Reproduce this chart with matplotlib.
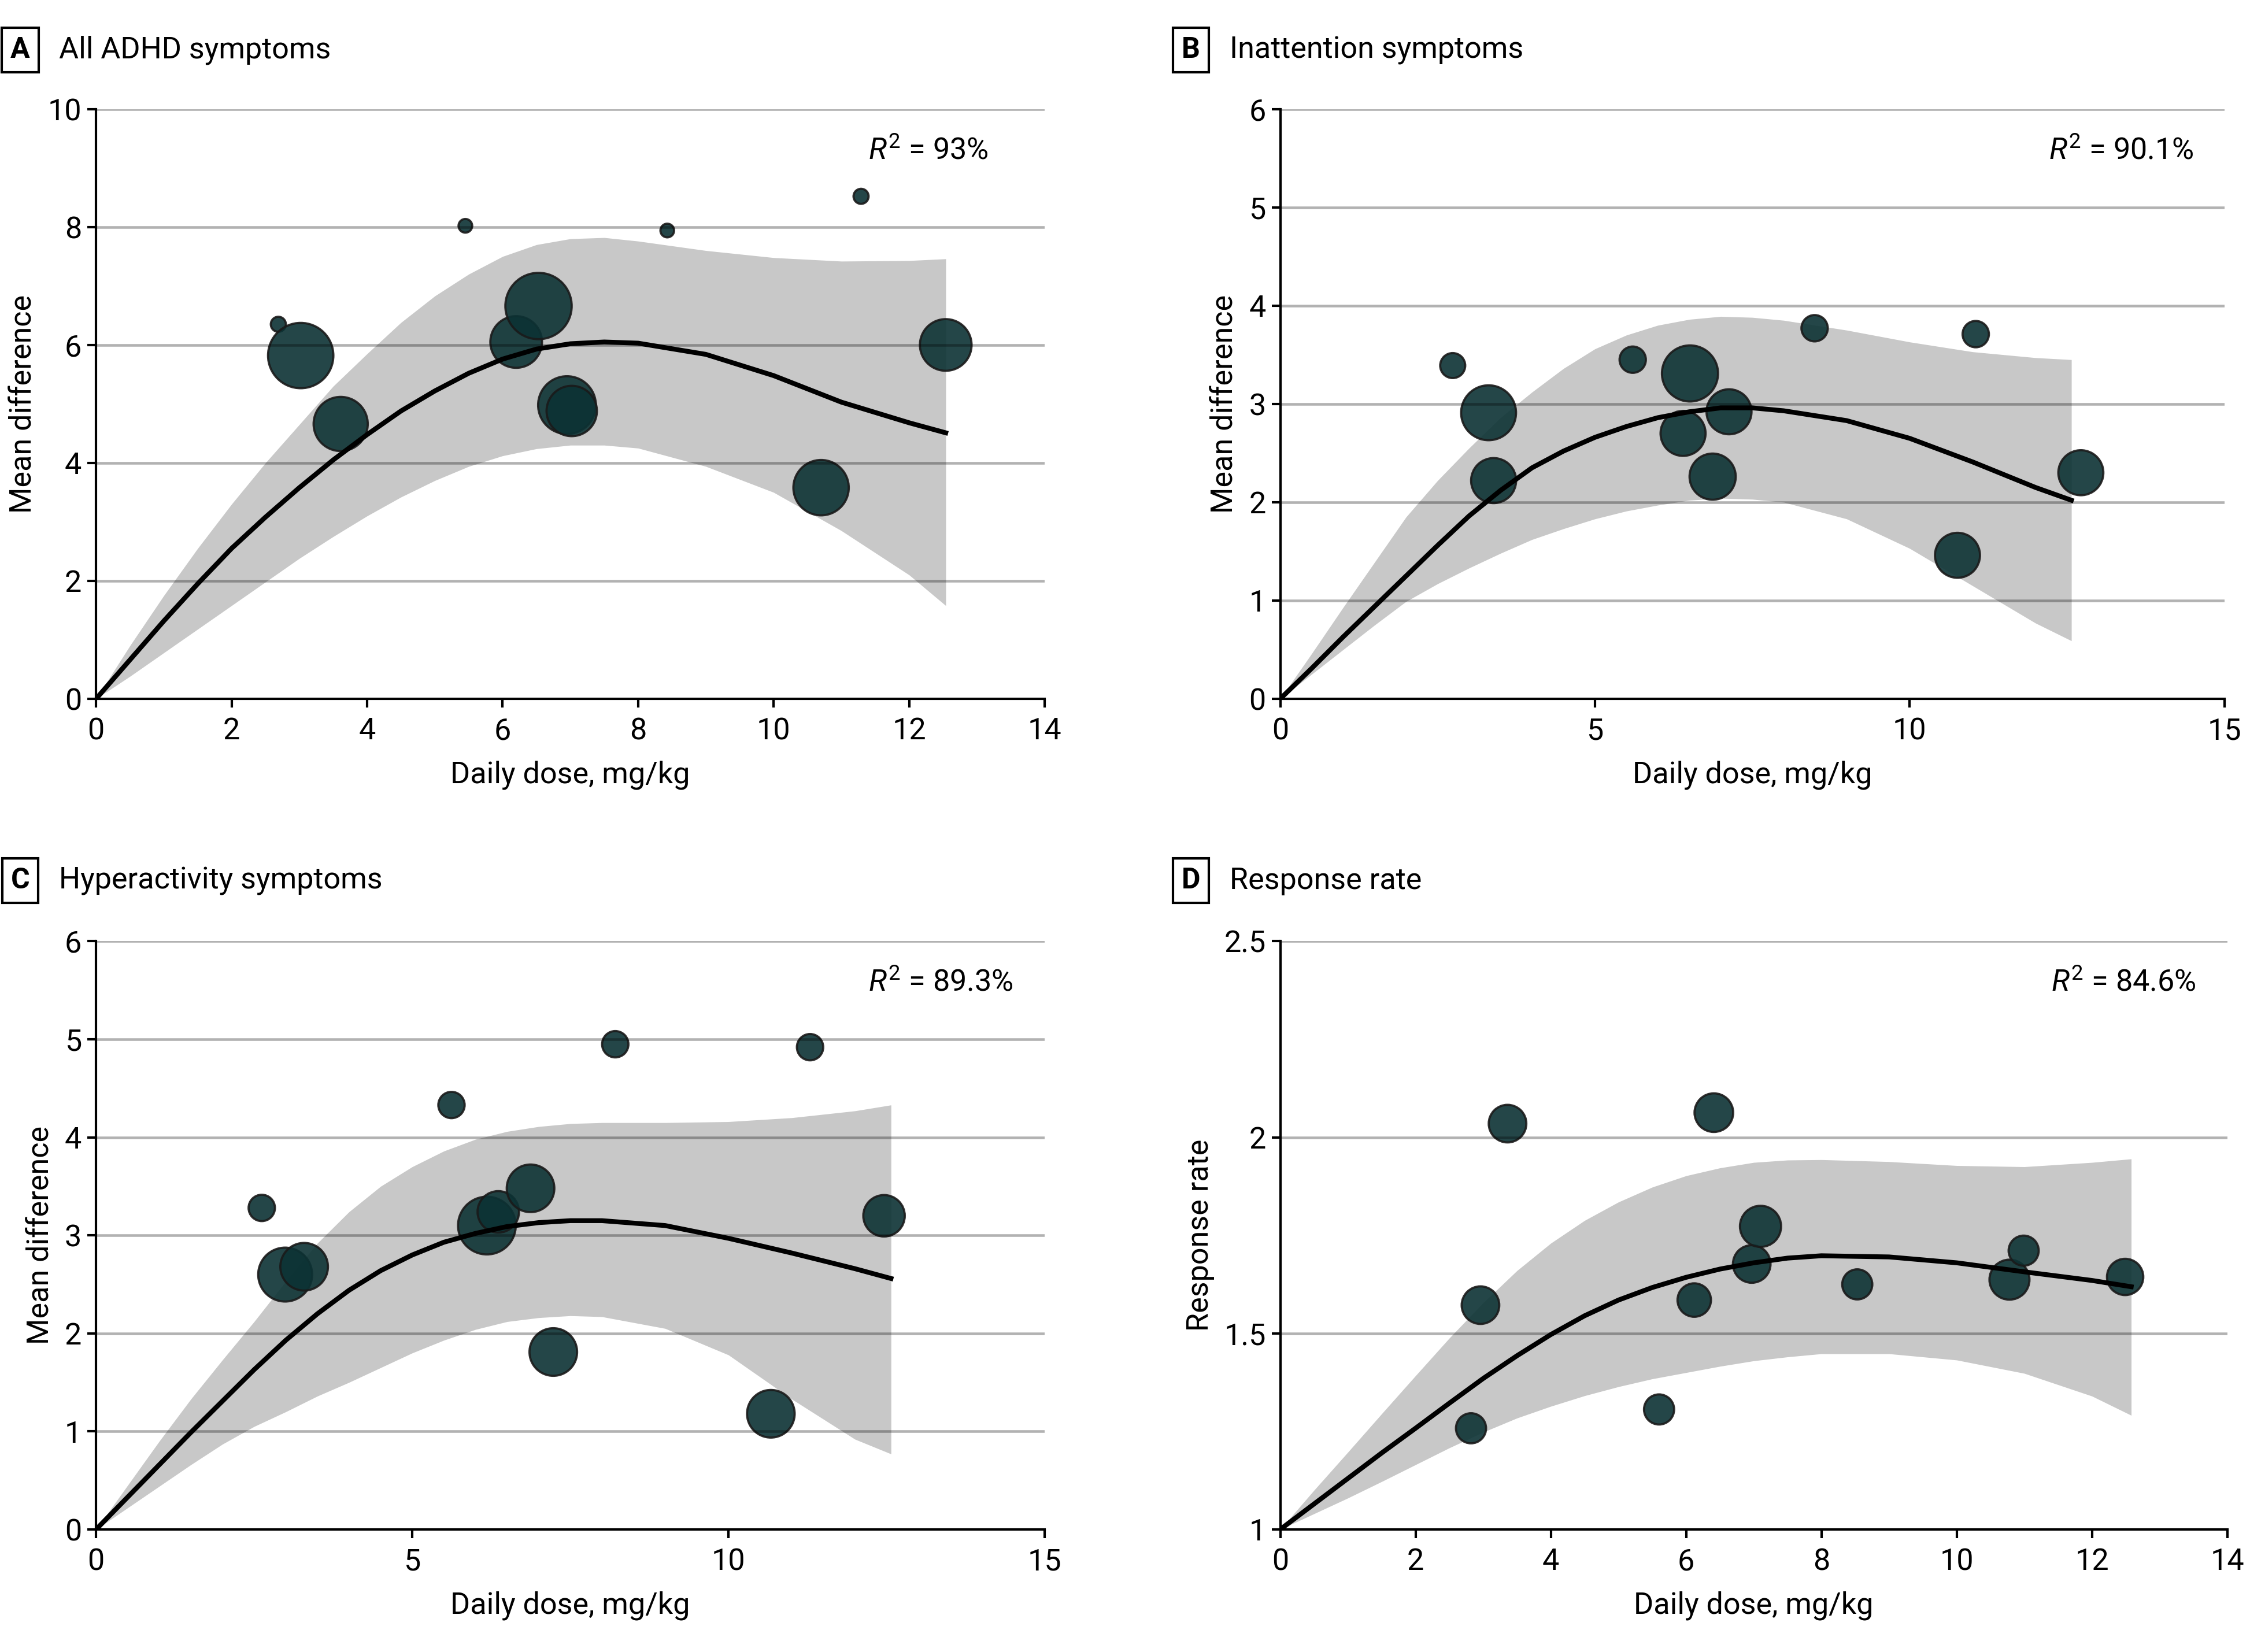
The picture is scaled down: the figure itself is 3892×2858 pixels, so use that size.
import numpy as np
import matplotlib
matplotlib.use('Agg')
import matplotlib.pyplot as plt

plt.rcParams['font.family'] = ['Roboto', 'DejaVu Sans']
plt.rcParams['font.size'] = 12
plt.rcParams['mathtext.fontset'] = 'custom'
plt.rcParams['mathtext.rm'] = 'Roboto'
plt.rcParams['mathtext.it'] = 'Roboto:italic'

# ---- data ----
# A: all ADHD symptoms
dose_a = [2.69, 3.02, 3.61, 5.45, 6.20, 6.53, 6.95, 7.02, 8.43, 10.70, 11.29, 12.54]
md_a = [6.35, 5.82, 4.66, 8.02, 6.05, 6.66, 4.98, 4.88, 7.94, 3.58, 8.52, 6.00]
wt_a = [1.7, 32, 22, 1.4, 20, 33, 25, 19, 1.4, 23, 1.7, 20]
fx_a = [0, 0.5, 1, 1.5, 2, 2.5, 3, 3.5, 4, 4.5, 5, 5.5, 6, 6.5, 7, 7.5, 8, 9, 10, 11, 12, 12.54]
fit_a = [0, 0.66, 1.32, 1.95, 2.55, 3.08, 3.58, 4.05, 4.48, 4.88, 5.22, 5.52, 5.76, 5.93,
         6.02, 6.05, 6.03, 5.84, 5.48, 5.03, 4.68, 4.51]
hi_a = [0, 0.9, 1.75, 2.55, 3.3, 4.0, 4.65, 5.3, 5.85, 6.38, 6.83, 7.2, 7.5, 7.7,
        7.8, 7.82, 7.76, 7.6, 7.48, 7.42, 7.43, 7.46]
lo_a = [0, 0.38, 0.78, 1.18, 1.58, 1.98, 2.38, 2.75, 3.1, 3.42, 3.7, 3.94, 4.12, 4.24,
        4.3, 4.3, 4.25, 3.94, 3.5, 2.85, 2.1, 1.58]

# B: inattention symptoms
dose_b = [2.74, 3.31, 3.39, 5.60, 6.51, 6.40, 7.13, 6.87, 8.49, 11.05, 10.76, 12.72]
md_b = [3.39, 2.91, 2.22, 3.45, 3.31, 2.70, 2.92, 2.26, 3.77, 3.71, 1.46, 2.30]
wt_b = [4.7, 22.6, 15.2, 5.2, 23.6, 15.2, 15.2, 16, 5.2, 5.2, 15.2, 15.2]
fx_b = [0, 0.5, 1, 1.5, 2, 2.5, 3, 3.5, 4, 4.5, 5, 5.5, 6, 6.5, 7, 7.5, 8, 9, 10, 11, 12, 12.57]
fit_b = [0, 0.31, 0.63, 0.94, 1.25, 1.56, 1.86, 2.12, 2.35, 2.52, 2.66, 2.77, 2.86, 2.92,
         2.96, 2.96, 2.93, 2.83, 2.65, 2.41, 2.15, 2.02]
hi_b = [0, 0.46, 0.93, 1.39, 1.85, 2.22, 2.55, 2.86, 3.12, 3.36, 3.56, 3.7, 3.8, 3.86,
        3.89, 3.88, 3.85, 3.75, 3.63, 3.53, 3.47, 3.45]
lo_b = [0, 0.25, 0.5, 0.75, 0.99, 1.17, 1.33, 1.48, 1.62, 1.73, 1.83, 1.91, 1.97, 2.02,
        2.04, 2.03, 2.0, 1.83, 1.53, 1.15, 0.77, 0.59]

# C: hyperactivity symptoms
dose_c = [2.62, 2.99, 3.29, 5.62, 6.18, 6.36, 6.87, 7.23, 8.21, 11.29, 10.67, 12.46]
md_c = [3.28, 2.60, 2.68, 4.33, 3.10, 3.24, 3.48, 1.81, 4.95, 4.92, 1.18, 3.20]
wt_c = [5.2, 21.8, 17, 5.2, 25, 12.9, 17, 17, 5.2, 5.2, 17, 12.9]
fx_c = [0, 0.5, 1, 1.5, 2, 2.5, 3, 3.5, 4, 4.5, 5, 5.5, 6, 6.5, 7, 7.5, 8, 9, 10, 11, 12, 12.57]
fit_c = [0, 0.33, 0.66, 0.99, 1.31, 1.63, 1.93, 2.2, 2.44, 2.64, 2.8, 2.93, 3.02, 3.09,
         3.13, 3.15, 3.15, 3.1, 2.97, 2.82, 2.66, 2.56]
hi_c = [0, 0.45, 0.9, 1.33, 1.73, 2.12, 2.53, 2.92, 3.24, 3.5, 3.7, 3.86, 3.98, 4.06,
        4.11, 4.14, 4.15, 4.15, 4.16, 4.2, 4.27, 4.33]
lo_c = [0, 0.22, 0.44, 0.66, 0.87, 1.05, 1.2, 1.36, 1.5, 1.65, 1.8, 1.93, 2.04, 2.12,
        2.16, 2.18, 2.17, 2.05, 1.78, 1.33, 0.92, 0.77]

# D: response rate
dose_d = [2.82, 2.96, 3.36, 5.60, 6.12, 6.41, 6.97, 7.10, 8.53, 10.78, 10.99, 12.49]
rr_d = [1.258, 1.572, 2.035, 1.306, 1.585, 2.063, 1.677, 1.773, 1.625, 1.637, 1.711, 1.644]
wt_d = [6.8, 10.6, 10.6, 6.8, 8.4, 11.2, 10.6, 12.7, 6.8, 12, 6.8, 9.9]
fx_d = [0, 0.5, 1, 1.5, 2, 2.5, 3, 3.5, 4, 4.5, 5, 5.5, 6, 6.5, 7, 7.5, 8, 9, 10, 11, 12, 12.58]
fit_d = [1, 1.065, 1.13, 1.195, 1.258, 1.322, 1.385, 1.443, 1.497, 1.545, 1.585, 1.617, 1.643,
         1.664, 1.68, 1.692, 1.698, 1.695, 1.68, 1.657, 1.635, 1.619]
hi_d = [1, 1.1, 1.197, 1.295, 1.392, 1.488, 1.578, 1.66, 1.73, 1.788, 1.835, 1.873, 1.902,
        1.922, 1.936, 1.942, 1.943, 1.938, 1.928, 1.925, 1.936, 1.945]
lo_d = [1, 1.04, 1.08, 1.122, 1.165, 1.208, 1.248, 1.284, 1.314, 1.341, 1.364, 1.384, 1.4,
        1.416, 1.43, 1.44, 1.448, 1.448, 1.432, 1.398, 1.34, 1.291]

BUBBLE = '#0c3234'


def panel(ax, dose, val, wt, fx, fit, lo, hi, xticks, yticks, ylabel, r2):
    ax.fill_between(fx, lo, hi, color='#c8c8c8', lw=0, zorder=1)
    ax.scatter(dose, val, s=np.array(wt) * 23.0, c=BUBBLE, alpha=0.9,
               edgecolors='#1a1a1a', linewidths=0.9, zorder=2, clip_on=False)
    ax.plot(fx, fit, color='black', lw=2, zorder=3, solid_joinstyle='round')
    ax.set_xlim(xticks[0], xticks[-1])
    ax.set_ylim(yticks[0], yticks[-1])
    ax.set_xticks(xticks)
    ax.set_yticks(yticks)
    ax.set_xticklabels([('%g' % t) for t in xticks])
    ax.set_yticklabels([('%g' % t) for t in yticks])
    for t in yticks[1:]:
        ax.axhline(t, color='black', alpha=0.3, lw=1.1, zorder=2.5)
    for s in ['top', 'right']:
        ax.spines[s].set_visible(False)
    for s in ['left', 'bottom']:
        ax.spines[s].set_linewidth(1.0)
    ax.tick_params(direction='out', length=3.5, width=1.0, labelsize=12.5)
    ax.tick_params(axis='y', pad=2.5)
    ax.tick_params(axis='x', pad=4)
    ax.set_xlabel('Daily dose, mg/kg', fontsize=12.5, labelpad=6)
    ax.set_ylabel(ylabel, fontsize=12.5)
    ax.text(0.814, 0.929, r'$\mathit{R}^{2}$ = ' + r2, transform=ax.transAxes,
            ha='left', va='center', fontsize=12.5)


fig = plt.figure(figsize=(3892 / 300, 2858 / 300), dpi=300)
ax_a = fig.add_axes([0.0427, 0.577, 0.4216, 0.357])
ax_b = fig.add_axes([0.569, 0.577, 0.4196, 0.357])
ax_c = fig.add_axes([0.0427, 0.0742, 0.4216, 0.356])
ax_d = fig.add_axes([0.569, 0.0742, 0.4209, 0.356])

panel(ax_a, dose_a, md_a, wt_a, fx_a, fit_a, lo_a, hi_a,
      [0, 2, 4, 6, 8, 10, 12, 14], [0, 2, 4, 6, 8, 10], 'Mean difference', '93%')
panel(ax_b, dose_b, md_b, wt_b, fx_b, fit_b, lo_b, hi_b,
      [0, 5, 10, 15], [0, 1, 2, 3, 4, 5, 6], 'Mean difference', '90.1%')
panel(ax_c, dose_c, md_c, wt_c, fx_c, fit_c, lo_c, hi_c,
      [0, 5, 10, 15], [0, 1, 2, 3, 4, 5, 6], 'Mean difference', '89.3%')
panel(ax_d, dose_d, rr_d, wt_d, fx_d, fit_d, lo_d, hi_d,
      [0, 2, 4, 6, 8, 10, 12, 14], [1, 1.5, 2, 2.5], 'Response rate', '84.6%')

titles = [('A', 'All ADHD symptoms', 0.009, 0.9696),
          ('B', 'Inattention symptoms', 0.5293, 0.9696),
          ('C', 'Hyperactivity symptoms', 0.009, 0.4668),
          ('D', 'Response rate', 0.5293, 0.4668)]
for letter, name, x, y in titles:
    fig.text(x, y, letter, ha='center', va='center', fontsize=12, weight='bold',
             bbox=dict(boxstyle='square,pad=0.3', fc='white', ec='black', lw=1.0))
    fig.text(x + 0.0172, y, name, ha='left', va='center', fontsize=12.5)

fig.savefig('out.png', dpi=300)
